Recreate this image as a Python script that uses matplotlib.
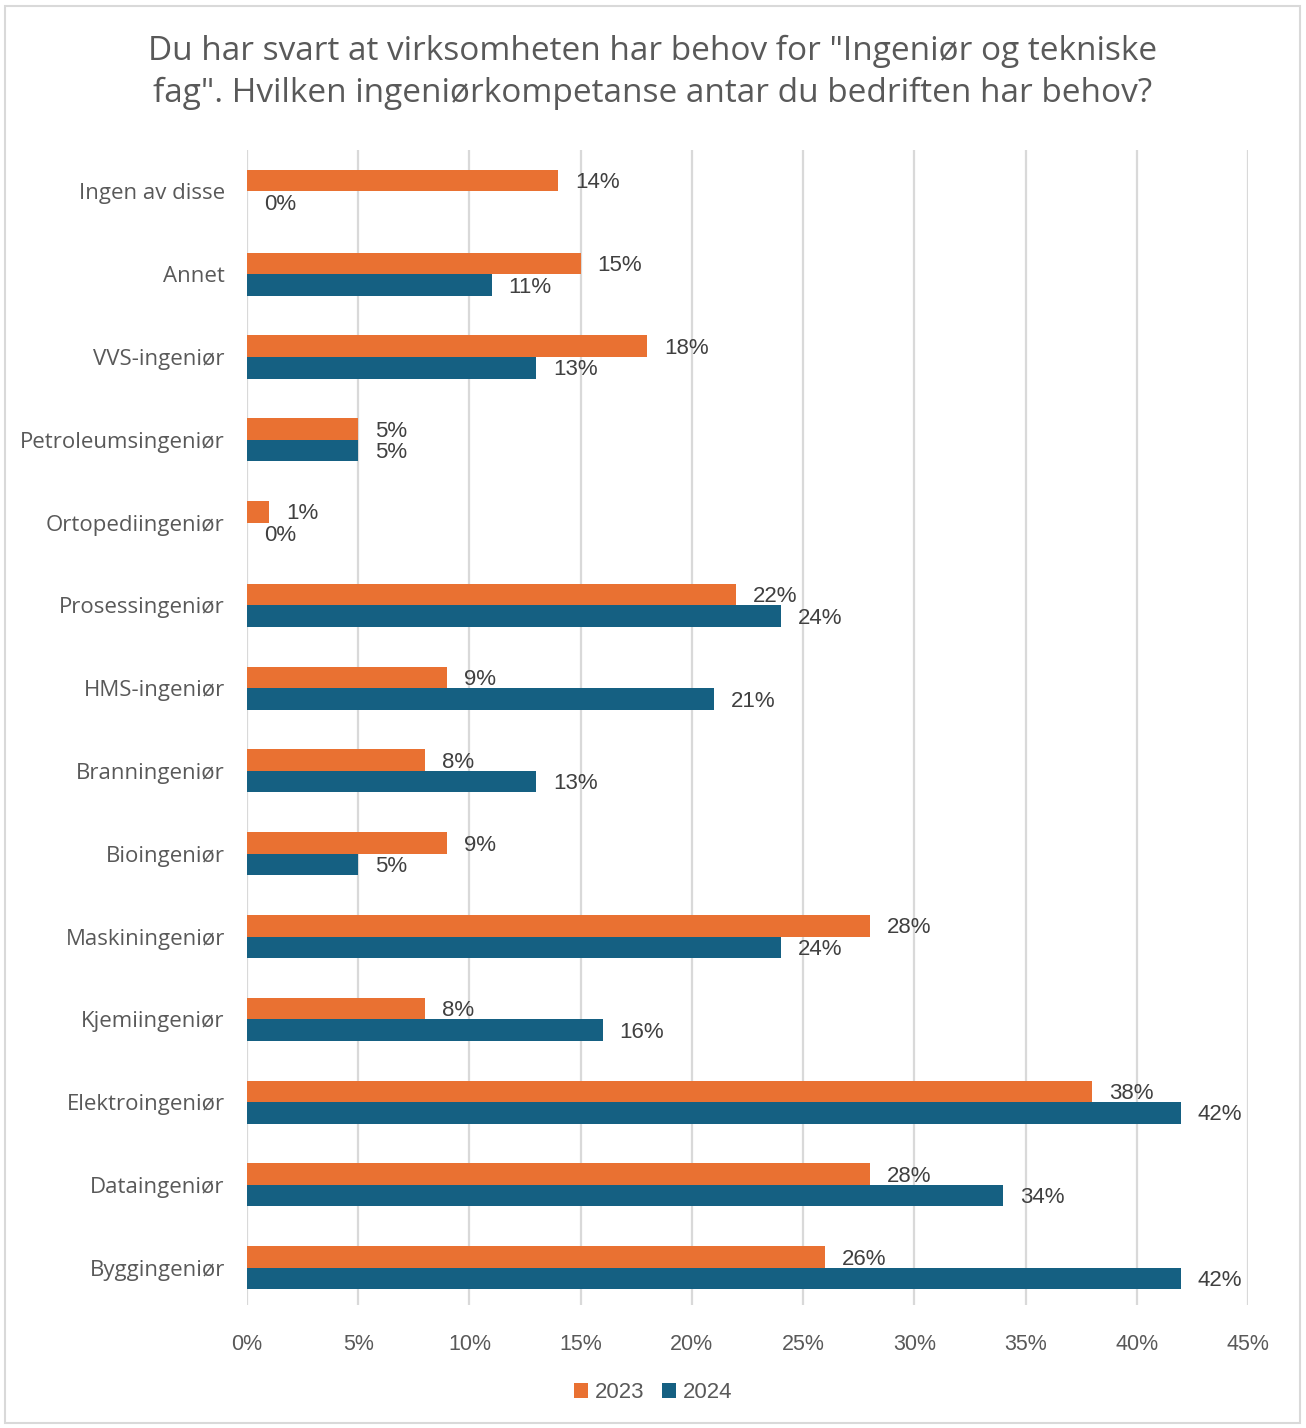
import matplotlib.pyplot as plt
import numpy as np
from matplotlib.patches import Rectangle

categories = ["Byggingeniør", "Dataingeniør", "Elektroingeniør", "Kjemiingeniør",
              "Maskiningeniør", "Bioingeniør", "Branningeniør", "HMS-ingeniør",
              "Prosessingeniør", "Ortopediingeniør", "Petroleumsingeniør",
              "VVS-ingeniør", "Annet", "Ingen av disse"]
values_2023 = [26, 28, 38, 8, 28, 9, 8, 9, 22, 1, 5, 18, 15, 14]
values_2024 = [42, 34, 42, 16, 24, 5, 13, 21, 24, 0, 5, 13, 11, 0]
series_names = ["2023", "2024"]
xticks = [0, 5, 10, 15, 20, 25, 30, 35, 40, 45]

ORANGE = "#E97132"
BLUE = "#156082"
GRID = "#D9D9D9"
TXT = "#595959"
LBL = "#404040"

plt.rcParams['font.family'] = ['Open Sans', 'DejaVu Sans']

fig = plt.figure(figsize=(13.06, 14.28), dpi=100)
ax = fig.add_axes([247/1306, 1 - 1305/1428, (1248-247)/1306, (1305-150)/1428])

y = np.arange(len(categories))
h = 0.26
ax.barh(y + h/2, values_2023, height=h, color=ORANGE, label=series_names[0], zorder=3)
ax.barh(y - h/2, values_2024, height=h, color=BLUE, label=series_names[1], zorder=3)

for yi, v in zip(y, values_2023):
    ax.annotate(f"{v}%", (v, yi + h/2), xytext=(12, -1.5), textcoords="offset points",
                va="center", ha="left", fontsize=16, color=LBL, family="Liberation Sans")
for yi, v in zip(y, values_2024):
    ax.annotate(f"{v}%", (v, yi - h/2), xytext=(12, -1.5), textcoords="offset points",
                va="center", ha="left", fontsize=16, color=LBL, family="Liberation Sans")

ax.set_xlim(0, 45)
ax.set_ylim(-0.45, 13.5)
ax.set_xticks(xticks)
ax.set_xticklabels([f"{t}%" for t in xticks], fontsize=15.5, color=TXT, family="Liberation Sans")
ax.set_yticks(y)
ax.set_yticklabels(categories, fontsize=16, color=TXT)
ax.tick_params(axis="y", length=0, pad=16)
ax.tick_params(axis="x", length=0, pad=21)
ax.grid(axis="x", color=GRID, linewidth=1.6, zorder=0)
for s in ax.spines.values():
    s.set_visible(False)

fig.text(0.5, 1 - 72/1428, "Du har svart at virksomheten har behov for \"Ingeniør og tekniske\nfag\". Hvilken ingeniørkompetanse antar du bedriften har behov?",
         ha="center", va="center", fontsize=24, color=TXT, linespacing=1.35)

leg = fig.legend(loc="center", bbox_to_anchor=(0.5, 1 - 1393/1428), ncol=2, frameon=False,
                 handlelength=0.65, handleheight=0.65, handletextpad=0.3,
                 columnspacing=0.8, prop={"family": "Liberation Sans", "size": 16})
for t in leg.get_texts():
    t.set_color(TXT)

fig.patches.append(Rectangle((5/1306, 5/1428), 1295/1306, 1417/1428, transform=fig.transFigure,
                             fill=False, edgecolor="#D9D9D9", linewidth=1.5))

fig.savefig("out.png", dpi=100, facecolor="white")
